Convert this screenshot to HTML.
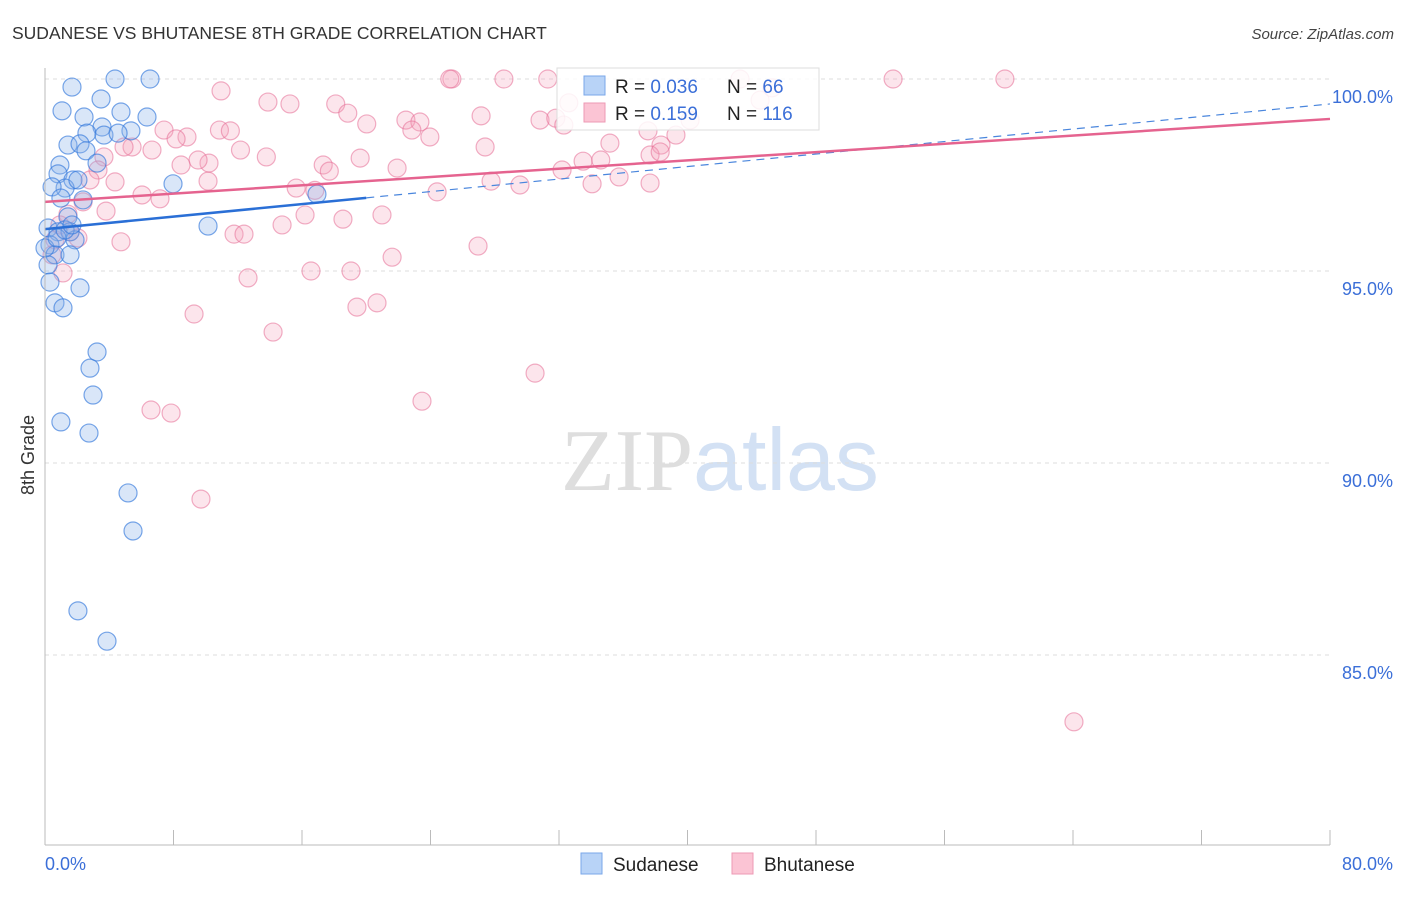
<!DOCTYPE html>
<html><head><meta charset="utf-8"><style>
body{margin:0;background:#fff;font-family:"Liberation Sans",sans-serif}
svg text{font-family:"Liberation Sans",sans-serif}
</style></head><body>
<svg id="chart" width="1406" height="892" xmlns="http://www.w3.org/2000/svg">
<text x="12" y="39" font-size="17.5" fill="#333">SUDANESE VS BHUTANESE 8TH GRADE CORRELATION CHART</text>
<text x="1394" y="39" font-size="15" fill="#444" text-anchor="end" font-style="italic">Source: ZipAtlas.com</text>
<text x="720" y="490" font-size="88" text-anchor="middle"><tspan fill="#dedede" font-family="Liberation Serif">ZIP</tspan><tspan fill="#d3e1f4">atlas</tspan></text>
<text transform="translate(34,455) rotate(-90)" font-size="18" fill="#333" text-anchor="middle">8th Grade</text>
<g id="grid"></g><g id="pts"></g><g id="lines"></g>
<line x1="45" y1="845" x2="1330" y2="845" stroke="#bbb"/>
<line x1="45" y1="68" x2="45" y2="845" stroke="#bbb"/>
<text x="45" y="870" font-size="18" fill="#3b6fd8">0.0%</text>
<text x="1393" y="870" font-size="18" fill="#3b6fd8" text-anchor="end">80.0%</text>
<g>
<rect x="557" y="68" width="262" height="62" fill="rgba(255,255,255,0.85)" stroke="#ddd"/>
<rect x="584" y="76" width="21" height="19" fill="#b8d3f7" stroke="#7aa7ea"/>
<rect x="584" y="103" width="21" height="19" fill="#fbc4d4" stroke="#ee9ab4"/>
<text x="615" y="93" font-size="19" fill="#222">R = <tspan fill="#3b6fd8">0.036</tspan></text>
<text x="727" y="93" font-size="19" fill="#222">N = <tspan fill="#3b6fd8"> 66</tspan></text>
<text x="615" y="120" font-size="19" fill="#222">R = <tspan fill="#3b6fd8"> 0.159</tspan></text>
<text x="727" y="120" font-size="19" fill="#222">N = <tspan fill="#3b6fd8">116</tspan></text>
</g>
<g>
<rect x="581" y="853" width="21" height="21" fill="#b8d3f7" stroke="#7aa7ea"/>
<text x="613" y="871" font-size="19" fill="#222">Sudanese</text>
<rect x="732" y="853" width="21" height="21" fill="#fbc4d4" stroke="#ee9ab4"/>
<text x="764" y="871" font-size="19" fill="#222">Bhutanese</text>
</g>
</svg>
<script>
const yTicks=[100,95,90,85];
const yTickLabels=["100.0%","95.0%","90.0%","85.0%"];
const xTicks=[0,8,16,24,32,40,48,56,64,72,80];
const sudX=[1.68,4.36,6.54,1.06,3.49,4.73,2.43,6.35,3.55,2.61,3.67,5.35,4.55,1.43,2.18,2.55,0.93,3.24,0.81,1.74,1.25,7.97,0.44,0.99,2.37,10.15,16.93,1.43,0.19,0.81,1.56,1.87,0.31,0.62,1.56,0.19,0.31,2.18,0.62,1.12,3.24,2.8,2.99,0.99,2.74,5.17,5.48,2.05,3.86,0,0.75,1.25,1.68,2.05];
const sudY=[99.79,100,100,99.17,99.48,99.14,99.01,99.01,98.75,98.59,98.54,98.65,98.59,98.28,98.31,98.13,97.76,97.81,97.53,97.37,97.16,97.27,97.19,96.9,96.85,96.17,97.0,96.41,96.12,96.02,96.02,95.81,95.68,95.42,95.42,95.16,94.71,94.56,94.17,94.04,92.89,92.47,91.77,91.07,90.78,89.22,88.23,86.15,85.36,95.6,95.86,96.07,96.2,97.37];
const bhuX=[10.96,13.88,15.25,18.1,18.85,20.03,22.47,23.34,22.84,23.96,25.33,28.57,31.3,27.15,27.4,30.82,31.8,32.61,33.5,34.6,35.17,37.54,38.35,39.28,40.16,43.27,45.26,52.8,59.76,64.06,37.67,35.74,34.06,32.19,29.57,27.77,24.41,21.92,19.62,17.32,15.64,13.78,12.17,10.86,11.54,8.84,7.41,8.16,6.66,5.42,4.92,10.21,9.53,8.47,10.15,4.36,3.67,3.3,2.8,2.37,3.8,6.04,7.16,16.19,18.55,20.98,14.76,11.77,12.39,4.73,1.43,1.56,1.12,16.56,19.05,21.61,26.96,12.64,9.28,14.2,19.42,20.67,30.51,23.47,6.6,7.85,9.71,0.62,0.93,2.05,0.44,37.67,38.3,44.52,32.3,16.8,17.7,25.2];
const bhuY=[99.69,99.4,99.35,99.35,99.11,98.83,98.93,98.88,98.67,98.49,100,100,100,99.04,98.23,98.93,98.98,99.38,97.86,97.89,98.33,98.65,98.28,98.54,98.93,100,99.77,100,100,83.26,97.29,97.45,97.27,97.63,97.24,97.34,97.06,97.68,97.94,97.76,97.16,97.97,98.15,98.67,98.65,98.49,98.67,98.44,98.15,98.23,98.23,97.81,97.89,97.76,97.34,97.32,97.97,97.63,97.37,96.8,96.56,96.98,96.88,96.46,96.35,96.46,96.2,95.96,95.96,95.76,96.48,96.02,94.95,95,95,95.36,95.65,94.82,93.88,93.41,94.06,94.17,92.34,91.61,91.38,91.3,89.06,95.81,96.2,95.86,95.42,98.02,98.1,99.45,98.8,97.1,97.6,100];
const sudTrend=[96.09,99.35];
const bhuTrend=[96.8,98.96];
const NS="http://www.w3.org/2000/svg";
const sx=v=>45+v/80*1285;
const sy=v=>79+(100-v)*38.4;
function mk(tag,attrs,parent){const e=document.createElementNS(NS,tag);for(const k in attrs)e.setAttribute(k,attrs[k]);parent.appendChild(e);return e;}
const grid=document.getElementById('grid');
yTicks.forEach((t,i)=>{
 const l=mk('line',{x1:45,x2:1330,y1:sy(t),y2:sy(t),stroke:'#ddd','stroke-dasharray':'4,4'},grid);
 
 
 const tx=mk('text',{x:1393,y:sy(t)+24,'font-size':18,fill:'#3b6fd8','text-anchor':'end'},grid);
 tx.textContent=yTickLabels[i];
 
 
});
xTicks.forEach(t=>{
 const l=mk('line',{x1:sx(t),x2:sx(t),y1:830,y2:845,stroke:'#bbb'},grid);
 
 
});
const pts=document.getElementById('pts');
bhuX.forEach((x,i)=>{
 const c=mk('circle',{cx:sx(x),cy:sy(bhuY[i]),r:9,fill:'rgba(244,160,185,0.28)',stroke:'rgba(230,110,150,0.55)','stroke-width':1.2},pts);
 
 
});
sudX.forEach((x,i)=>{
 const c=mk('circle',{cx:sx(x),cy:sy(sudY[i]),r:9,fill:'rgba(140,180,235,0.33)',stroke:'rgba(50,120,220,0.65)','stroke-width':1.2},pts);
 
 
});
const lines=document.getElementById('lines');
const sAt=x=>sudTrend[0]+(sudTrend[1]-sudTrend[0])*x/80;
let l1=mk('line',{x1:sx(20),y1:sy(sAt(20)),x2:sx(80),y2:sy(sAt(80)),stroke:'#4a86dd','stroke-width':1.2,'stroke-dasharray':'8,6'},lines);


let l2=mk('line',{x1:sx(0),y1:sy(sAt(0)),x2:sx(20),y2:sy(sAt(20)),stroke:'#2a6fd6','stroke-width':2.5},lines);


let l3=mk('line',{x1:sx(0),y1:sy(bhuTrend[0]),x2:sx(80),y2:sy(bhuTrend[1]),stroke:'#e5638f','stroke-width':2.5},lines);


</script>
</body></html>
